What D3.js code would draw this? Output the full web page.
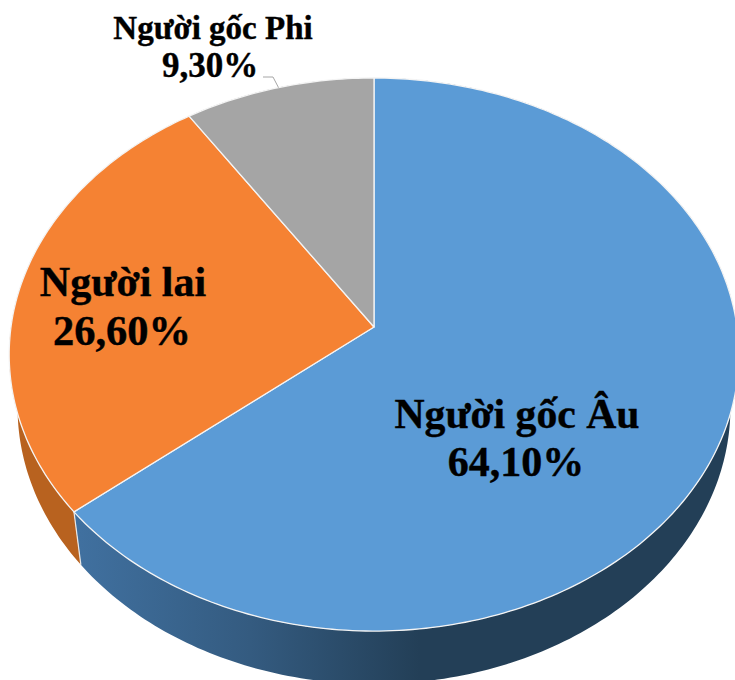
<!DOCTYPE html>
<meta charset="utf-8">
<style>
html, body { margin: 0; padding: 0; background: #fff; overflow: hidden; }
svg { display: block; }
text { font-family: "Liberation Serif", serif; font-weight: bold; fill: #000; stroke: #000; stroke-width: 0.4; text-anchor: middle; }
</style>
<script src="https://d3js.org/d3.v7.min.js"></script>
<body>
<div id="chart"></div>
<script>
var categories = ["Người gốc Âu", "Người lai", "Người gốc Phi"];
var values = [64.1, 26.6, 9.3];
var valueLabels = ["64,10%", "26,60%", "9,30%"];
var topColors = ["#5b9bd6", "#f58233", "#a5a5a5"];
var sideColors = ["url(#blueSide)", "#b8621f", "#6f6f6f"];

var width = 735, height = 680;

// tilted disc: centre of the slices, then perspective
var cx = 374, cy = 327, a = 363, b = 273.8, k = 0.0995;
var depth = 53, shrink = 0.977;

function project(angle) {
  var u = Math.sin(angle), v = Math.cos(angle), w = 1 + k * v;
  return [cx + a * u / w, cy - b * v / w];
}
function projectLow(angle) {
  var p = project(angle);
  return [cx + (p[0] - cx) * shrink, p[1] + depth];
}
function arcAngles(d) {
  var n = Math.ceil((d.endAngle - d.startAngle) * 60);
  return d3.range(n + 1).map(function(i) {
    return d.startAngle + (d.endAngle - d.startAngle) * i / n;
  });
}

var svg = d3.select("#chart").append("svg")
  .attr("width", width)
  .attr("height", height);

var grad = svg.append("defs").append("linearGradient")
  .attr("id", "blueSide")
  .attr("gradientUnits", "userSpaceOnUse")
  .attr("x1", 80).attr("x2", 420).attr("y1", 0).attr("y2", 0);
grad.append("stop").attr("offset", "0").attr("stop-color", "#40709f");
grad.append("stop").attr("offset", "0.5").attr("stop-color", "#345b80");
grad.append("stop").attr("offset", "1").attr("stop-color", "#233f57");

var slices = d3.pie().sort(null).value(function(d) { return d; })(values);
var line = d3.line();

// side walls first, the top covers whatever lies behind it
svg.append("g").selectAll("path")
  .data(slices)
  .enter()
  .append("path")
    .attr("d", function(d) {
      var t = arcAngles(d);
      return line(t.map(project).concat(t.slice().reverse().map(projectLow))) + "Z";
    })
    .attr("fill", function(d, i) { return sideColors[i]; });

// thin light edge where the two walls meet
var edge = slices[0].endAngle;
svg.append("path")
  .attr("d", line([project(edge), projectLow(edge)]))
  .attr("stroke", "#e8e8e8")
  .attr("stroke-width", 1.2)
  .attr("fill", "none");

// top faces
svg.append("g").selectAll("path")
  .data(slices)
  .enter()
  .append("path")
    .attr("d", function(d) {
      return line([[cx, cy]].concat(arcAngles(d).map(project))) + "Z";
    })
    .attr("fill", function(d, i) { return topColors[i]; })
    .attr("stroke", "#f4f4f4")
    .attr("stroke-width", 1.3)
    .attr("stroke-linejoin", "round");

// leader for the small slice, ends on the middle of its rim
var mid = project((slices[2].startAngle + slices[2].endAngle) / 2);
svg.append("path")
  .attr("d", line([[263, 77], [273, 77], mid]))
  .attr("stroke", "#a6a6a6")
  .attr("stroke-width", 1)
  .attr("fill", "none");

var labelX = [517, 123, 213];
var valueX = [516, 122, 210];
var labelY = [[428, 476], [296, 345], [39, 77]];
var labelSize = [41.7, 42, 33];
var valueSize = [42, 42.5, 35];

categories.forEach(function(c, i) {
  svg.append("text")
    .attr("x", labelX[i]).attr("y", labelY[i][0])
    .attr("font-size", labelSize[i])
    .text(c);
  svg.append("text")
    .attr("x", valueX[i]).attr("y", labelY[i][1])
    .attr("font-size", valueSize[i])
    .text(valueLabels[i]);
});
</script>
</body>
